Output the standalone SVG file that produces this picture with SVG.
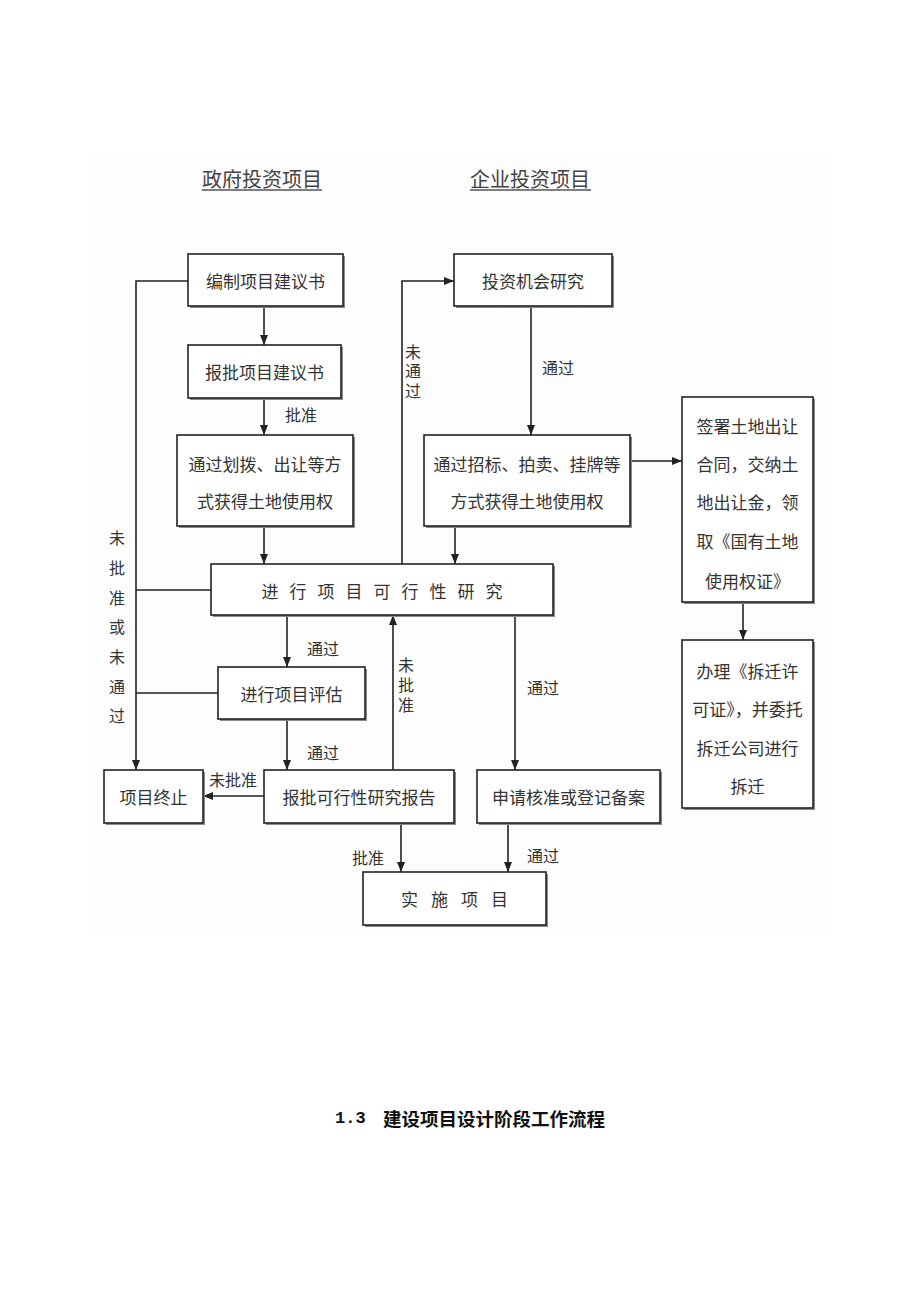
<svg xmlns="http://www.w3.org/2000/svg" width="920" height="1302" viewBox="0 0 920 1302">
<style>
.t{font-family:"Noto Sans CJK SC","Noto Sans",sans-serif;font-size:17px;fill:#333;text-anchor:middle;dominant-baseline:central}
.lb{font-family:"Noto Sans CJK SC","Noto Sans",sans-serif;font-size:16px;fill:#333;text-anchor:middle;dominant-baseline:central}
.vl{font-family:"Noto Sans CJK SC","Noto Sans",sans-serif;font-size:16px;fill:#333;text-anchor:middle;writing-mode:vertical-rl}
.ttl{font-family:"Noto Sans CJK SC","Noto Sans",sans-serif;font-size:20px;fill:#444;text-anchor:middle;dominant-baseline:central}
.box{fill:#fff;stroke:#222;stroke-width:1.6}
.sh{fill:#8a8a8a}
.ln{fill:none;stroke:#222;stroke-width:1.6}
.ar{fill:none;stroke:#222;stroke-width:1.6;marker-end:url(#ah)}
</style>
<defs>
<marker id="ah" markerUnits="userSpaceOnUse" markerWidth="10" markerHeight="10" viewBox="0 0 10 10" refX="10" refY="5" orient="auto">
<path d="M0,1 L10,5 L0,9 Z" fill="#222"/>
</marker>
</defs>
<rect x="0" y="0" width="920" height="1302" fill="#fff"/>
<rect x="88" y="152" width="742" height="778" fill="#fdfdfe"/>

<g id="titles">
<text class="ttl" x="262" y="178">政府投资项目</text>
<line x1="202" y1="190" x2="322" y2="190" stroke="#555" stroke-width="1.5"/>
<text class="ttl" x="530" y="178">企业投资项目</text>
<line x1="470" y1="190" x2="591" y2="190" stroke="#555" stroke-width="1.5"/>
</g>

<g id="connectors">
<polyline class="ar" points="188,281 136,281 136,770"/>
<line class="ln" x1="136" y1="590" x2="211" y2="590"/>
<line class="ln" x1="136" y1="693" x2="218" y2="693"/>
<line class="ar" x1="264" y1="306" x2="264" y2="345"/>
<line class="ar" x1="264" y1="398" x2="264" y2="435"/>
<line class="ar" x1="264" y1="526" x2="264" y2="564"/>
<polyline class="ar" points="402,564 402,281 454,281"/>
<line class="ar" x1="531" y1="306" x2="531" y2="435"/>
<line class="ar" x1="630" y1="461" x2="682" y2="461"/>
<line class="ar" x1="455" y1="526" x2="455" y2="564"/>
<line class="ar" x1="743" y1="602" x2="743" y2="640"/>
<line class="ar" x1="287" y1="615" x2="287" y2="667"/>
<line class="ar" x1="393" y1="770" x2="393" y2="615"/>
<line class="ar" x1="515" y1="615" x2="515" y2="770"/>
<line class="ar" x1="287" y1="719" x2="287" y2="770"/>
<line class="ar" x1="264" y1="796" x2="203" y2="796"/>
<line class="ar" x1="401" y1="823" x2="401" y2="872"/>
<line class="ar" x1="508" y1="823" x2="508" y2="872"/>
<text class="lb" x="301" y="414">批准</text>
<text class="vl" x="413" y="373" letter-spacing="3.5">未通过</text>
<text class="lb" x="558" y="367">通过</text>
<text class="vl" x="117" y="634" letter-spacing="13.7">未批准或未通过</text>
<text class="lb" x="323" y="648">通过</text>
<text class="vl" x="406" y="687" letter-spacing="4">未批准</text>
<text class="lb" x="543" y="687">通过</text>
<text class="lb" x="323" y="752">通过</text>
<text class="lb" x="233" y="779">未批准</text>
<text class="lb" x="368" y="857">批准</text>
<text class="lb" x="543" y="855">通过</text>
</g>

<g id="n1"><rect class="sh" x="190" y="256" width="155" height="52"/><rect class="box" x="188" y="254" width="155" height="52"/><text class="t" x="265.5" y="280">编制项目建议书</text></g>
<g id="n2"><rect class="sh" x="190" y="347" width="153" height="53"/><rect class="box" x="188" y="345" width="153" height="53"/><text class="t" x="264.5" y="371.5">报批项目建议书</text></g>
<g id="n3"><rect class="sh" x="179" y="437" width="176" height="91"/><rect class="box" x="177" y="435" width="176" height="91"/><text class="t" x="265" y="463">通过划拨、出让等方</text><text class="t" x="265" y="500">式获得土地使用权</text></g>
<g id="n4"><rect class="sh" x="456" y="256" width="158" height="52"/><rect class="box" x="454" y="254" width="158" height="52"/><text class="t" x="533" y="280">投资机会研究</text></g>
<g id="n5"><rect class="sh" x="426" y="437" width="206" height="91"/><rect class="box" x="424" y="435" width="206" height="91"/><text class="t" x="527" y="463">通过招标、拍卖、挂牌等</text><text class="t" x="527" y="500">方式获得土地使用权</text></g>
<g id="n6"><rect class="sh" x="684" y="399" width="131" height="205"/><rect class="box" x="682" y="397" width="131" height="205"/><text class="t" x="747.5" y="425">签署土地出让</text><text class="t" x="747.5" y="463">合同，交纳土</text><text class="t" x="747.5" y="501">地出让金，领</text><text class="t" x="747.5" y="540">取《国有土地</text><text class="t" x="747.5" y="580">使用权证》</text></g>
<g id="n7"><rect class="sh" x="213" y="566" width="342" height="51"/><rect class="box" x="211" y="564" width="342" height="51"/><text class="t" x="387.5" y="590" letter-spacing="11">进行项目可行性研究</text></g>
<g id="n8"><rect class="sh" x="684" y="642" width="131" height="168"/><rect class="box" x="682" y="640" width="131" height="168"/><text class="t" x="747.5" y="670">办理《拆迁许</text><text class="t" x="747.5" y="708">可证》，并委托</text><text class="t" x="747.5" y="747">拆迁公司进行</text><text class="t" x="747.5" y="785">拆迁</text></g>
<g id="n9"><rect class="sh" x="220" y="669" width="147" height="52"/><rect class="box" x="218" y="667" width="147" height="52"/><text class="t" x="291.5" y="693">进行项目评估</text></g>
<g id="n10"><rect class="sh" x="106" y="772" width="99" height="53"/><rect class="box" x="104" y="770" width="99" height="53"/><text class="t" x="153.5" y="796.5">项目终止</text></g>
<g id="n11"><rect class="sh" x="266" y="772" width="190" height="53"/><rect class="box" x="264" y="770" width="190" height="53"/><text class="t" x="359" y="796.5">报批可行性研究报告</text></g>
<g id="n12"><rect class="sh" x="479" y="772" width="183" height="53"/><rect class="box" x="477" y="770" width="183" height="53"/><text class="t" x="568.5" y="796.5">申请核准或登记备案</text></g>
<g id="n13"><rect class="sh" x="365" y="874" width="183" height="53"/><rect class="box" x="363" y="872" width="183" height="53"/><text class="t" x="461" y="898.5" letter-spacing="13">实施项目</text></g>

<g id="caption">
<text x="335" y="1118" font-family="'Liberation Mono',monospace" font-size="17" font-weight="bold" fill="#111" dominant-baseline="central">1.3</text>
<text x="383" y="1118" font-family="'Noto Sans CJK SC',sans-serif" font-size="18.5" font-weight="bold" fill="#111" dominant-baseline="central">建设项目设计阶段工作流程</text>
</g>
</svg>
